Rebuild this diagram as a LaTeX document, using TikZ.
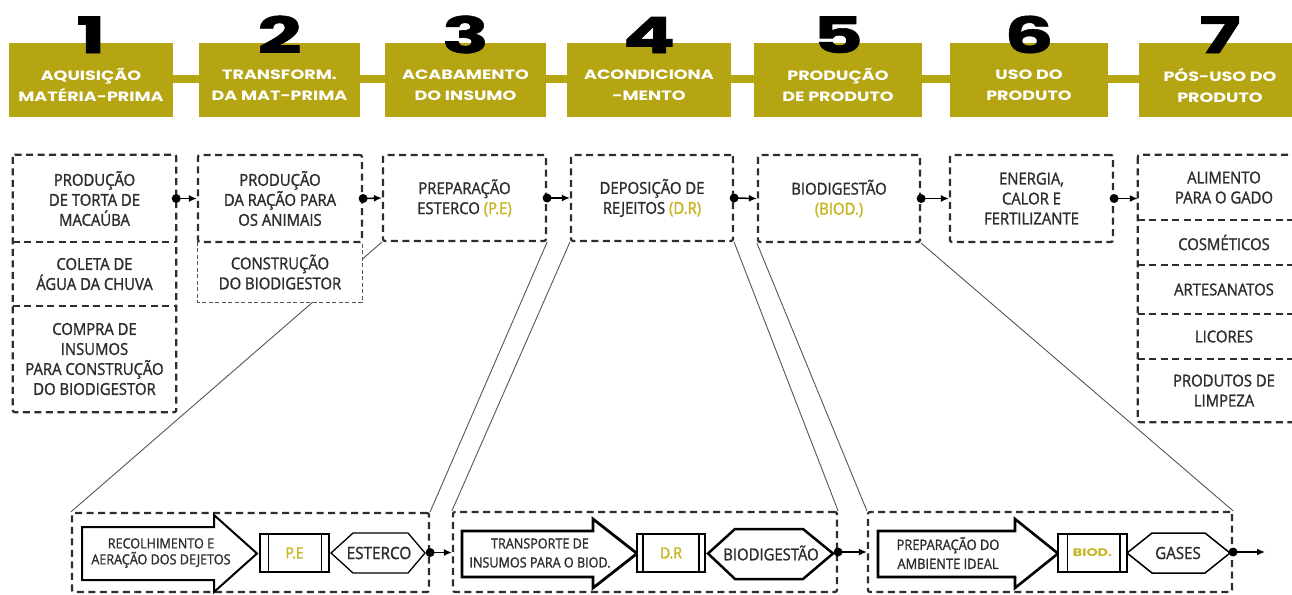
\documentclass[tikz,border=0pt]{standalone}
\usepackage{fontspec}
\setmainfont{Open Sans}[FakeStretch=0.9,FakeBold=1.3]
\newfontfamily\hdrfont[FakeStretch=1.3]{Poppins}
\newfontfamily\numfont[FakeStretch=1.55,FakeBold=1.2]{Poppins}
\usetikzlibrary{arrows.meta,backgrounds}
\definecolor{olive}{RGB}{182,165,18}
\definecolor{hilite}{RGB}{198,181,32}
\definecolor{ink}{RGB}{45,45,45}
\definecolor{wire}{RGB}{85,85,85}
\newcommand{\hl}[1]{\textcolor{hilite}{#1}}
\tikzset{
  hdrbox/.style={fill=olive, inner sep=0pt, minimum height=74pt},
  hdrtext/.style={text=white, inner sep=0pt, align=center,
    font=\hdrfont\bfseries\fontsize{13.5}{21}\selectfont},
  numlbl/.style={font=\numfont\bfseries\fontsize{50}{50}\selectfont,
    inner sep=0pt, anchor=base, text=black},
  cell/.style={inner sep=0pt, align=center, text=ink,
    font=\fontsize{16.5}{20}\selectfont},
  dashframe/.style={draw=ink, line width=2.2pt, dash pattern=on 7pt off 4.5pt,
    rounded corners=2pt},
  thinframe/.style={draw=wire, line width=1pt, dash pattern=on 4pt off 2.5pt},
  funnel/.style={draw=wire, line width=0.9pt},
  link/.style={line width=1.5pt, -{Latex[length=8pt,width=7pt]}},
  proc/.style={draw=black, fill=white, inner sep=0pt, text=hilite},
  lbl/.style={inner sep=0pt, align=center, text=ink},
}
\begin{document}
\begin{tikzpicture}[x=1pt,y=-1pt]
\useasboundingbox (0,0) rectangle (1292,594);

% ---------- stage headers ----------
\fill[olive] (170,75) rectangle (1142,83);
\foreach \n/\cx/\w/\t in {
  1/91/164/{AQUISIÇÃO\\MATÉRIA-PRIMA},
  2/279.5/161/{TRANSFORM.\\DA MAT-PRIMA},
  3/465.5/161/{ACABAMENTO\\DO INSUMO},
  4/649/164/{ACONDICIONA\\-MENTO},
  5/838/168/{PRODUÇÃO\\DE PRODUTO},
  6/1029/158/{USO DO\\PRODUTO},
  7/1220/162/{PÓS-USO DO\\PRODUTO}}{
  \node[hdrbox, minimum width=\w pt] (h\n) at (\cx,80) {};
  \node[hdrtext] (ht\n) at (\cx,85) {\t};
  \node[numlbl] (hn\n) at (\cx,53) {\n};
}

% ---------- stage activities ----------
\node[cell, minimum width=163pt, minimum height=87pt] (b1a) at (94.5,198.5)
  {PRODUÇÃO\\DE TORTA DE\\MACAÚBA};
\node[cell, minimum width=163pt, minimum height=64pt] (b1b) at (94.5,274)
  {COLETA DE\\ÁGUA DA CHUVA};
\node[cell, minimum width=163pt, minimum height=106pt] (b1c) at (94.5,359)
  {COMPRA DE\\INSUMOS\\PARA CONSTRUÇÃO\\DO BIODIGESTOR};
\draw[dashframe] (b1a.north west) rectangle (b1c.south east);
\draw[dashframe, rounded corners=0pt] (b1a.south west) -- (b1a.south east);
\draw[dashframe, rounded corners=0pt] (b1b.south west) -- (b1b.south east);

\node[cell, fill=white, minimum width=164pt, minimum height=60pt] (b2b) at (280,272)
  {CONSTRUÇÃO\\DO BIODIGESTOR};
\draw[thinframe] (b2b.north west) -- (b2b.south west) -- (b2b.south east) -- (b2b.north east);
\node[cell, dashframe, fill=white, minimum width=164pt, minimum height=87pt] (b2a) at (280,198.5)
  {PRODUÇÃO\\DA RAÇÃO PARA\\OS ANIMAIS};

\node[cell, dashframe, fill=white, minimum width=163pt, minimum height=86pt] (b3) at (464.5,198)
  {PREPARAÇÃO\\ESTERCO \hl{(P.E)}};
\node[cell, dashframe, fill=white, minimum width=162pt, minimum height=86pt] (b4) at (652,198)
  {DEPOSIÇÃO DE\\REJEITOS \hl{(D.R)}};
\node[cell, dashframe, fill=white, minimum width=162pt, minimum height=87pt] (b5) at (839,198.5)
  {BIODIGESTÃO\\\hl{(BIOD.)}};
\node[cell, dashframe, fill=white, minimum width=163pt, minimum height=87pt] (b6) at (1031.5,198.5)
  {ENERGIA,\\CALOR E\\FERTILIZANTE};

\node[cell, minimum width=172pt, minimum height=65pt] (b7a) at (1224,187.5) {ALIMENTO\\PARA O GADO};
\node[cell, minimum width=172pt, minimum height=45pt] (b7b) at (1224,242.5) {COSMÉTICOS};
\node[cell, minimum width=172pt, minimum height=49pt] (b7c) at (1224,289.5) {ARTESANATOS};
\node[cell, minimum width=172pt, minimum height=45pt] (b7d) at (1224,336.5) {LICORES};
\node[cell, minimum width=172pt, minimum height=63pt] (b7e) at (1224,390.5) {PRODUTOS DE\\LIMPEZA};
\draw[dashframe] (b7a.north west) rectangle (b7e.south east);
\foreach \c in {b7a,b7b,b7c,b7d}
  \draw[dashframe, rounded corners=0pt] (\c.south west) -- (\c.south east);

% links between the stages
\foreach \a/\b in {b1a/b2a, b2a/b3, b3/b4, b4/b5, b5/b6}{
  \fill (\a.east) circle (4.5pt);
  \draw[link] (\a.east) -- (\b.west);
}
\fill (b6.east) circle (4.5pt);
\draw[link] (b6.east) -- (b6.east -| b7a.west);

% ---------- detail panels ----------
\node[dashframe, fill=white, inner sep=0pt, minimum width=357pt, minimum height=79pt] (pA) at (250.5,552.5) {};
\node[dashframe, fill=white, inner sep=0pt, minimum width=384pt, minimum height=80pt] (pB) at (645,552) {};
\node[dashframe, fill=white, inner sep=0pt, minimum width=364pt, minimum height=80pt] (pC) at (1050,552) {};

\begin{pgfonlayer}{background}
  \draw[funnel] (b3.south west) -- (pA.north west);
  \draw[funnel] (b3.south east) -- (pA.north east);
  \draw[funnel] (b4.south west) -- (pB.north west);
  \draw[funnel] (b4.south east) -- (pB.north east);
  \draw[funnel] (b5.south west) -- (pC.north west);
  \draw[funnel] (b5.south east) -- (pC.north east);
\end{pgfonlayer}

% panel A: manure preparation
\draw[line width=2pt, line join=miter] (82,527) -- (214,527) -- (214,515) -- (257,553.5)
  -- (214,592) -- (214,580) -- (82,580) -- cycle;
\node[lbl, font=\fontsize{14}{16}\selectfont] (tA) at (161,553) {RECOLHIMENTO E\\AERAÇÃO DOS DEJETOS};
\node[proc, line width=1.3pt, minimum width=69pt, minimum height=38pt,
  font=\fontsize{15.5}{14}\selectfont] (qA) at (294.5,553) {P.E};
\draw[line width=1.3pt] ([xshift=9pt]qA.north west) -- ([xshift=9pt]qA.south west);
\draw[line width=1.3pt] ([xshift=-8pt]qA.north east) -- ([xshift=-8pt]qA.south east);
\node[lbl, font=\fontsize{17}{16}\selectfont] (xA) at (379,553) {ESTERCO};
\draw[line width=1.3pt] (331,553) -- (353,533) -- (408,533) -- (425,553) -- (408,573) -- (353,573) -- cycle;

% panel B: waste deposition
\draw[line width=2.8pt, line join=miter] (462,531) -- (593,531) -- (593,519) -- (637,553.5)
  -- (593,588) -- (593,577) -- (462,577) -- cycle;
\node[lbl, font=\fontsize{14}{19}\selectfont] (tB) at (540,553) {TRANSPORTE DE\\INSUMOS PARA O BIOD.};
\node[proc, line width=1.8pt, minimum width=68pt, minimum height=38pt,
  font=\fontsize{15.5}{14}\selectfont] (qB) at (671,553) {D.R};
\draw[line width=1.6pt] ([xshift=7pt]qB.north west) -- ([xshift=7pt]qB.south west);
\draw[line width=1.6pt] ([xshift=-7pt]qB.north east) -- ([xshift=-7pt]qB.south east);
\node[lbl, font=\fontsize{16.5}{16}\selectfont] (xB) at (771,553) {BIODIGESTÃO};
\draw[line width=2.5pt] (708,553.5) -- (735,529) -- (803,529) -- (833,553.5) -- (803,579) -- (735,579) -- cycle;

% panel C: biodigestion
\draw[line width=2.6pt, line join=miter] (878,531) -- (1015,531) -- (1015,519) -- (1058,553.5)
  -- (1015,588) -- (1015,577) -- (878,577) -- cycle;
\node[lbl, font=\fontsize{14.3}{19}\selectfont] (tC) at (948,553) {PREPARAÇÃO DO\\AMBIENTE IDEAL};
\node[proc, line width=1.5pt, minimum width=69pt, minimum height=38pt,
  font=\hdrfont\bfseries\fontsize{11}{11}\selectfont] (qC) at (1092.5,553) {BIOD.};
\draw[line width=1.5pt] ([xshift=10pt]qC.north west) -- ([xshift=10pt]qC.south west);
\draw[line width=1.5pt] ([xshift=-8pt]qC.north east) -- ([xshift=-8pt]qC.south east);
\node[lbl, font=\fontsize{16.8}{16}\selectfont] (xC) at (1178,553) {GASES};
\draw[line width=1.5pt] (1127,553) -- (1152,533) -- (1205,533) -- (1230,553) -- (1205,573) -- (1152,573) -- cycle;

% links between the panels
\coordinate (out) at (1265,552);
\fill (pA.east) circle (4.5pt);
\draw[link] (pA.east) -- (pA.east -| pB.west);
\fill (pB.east) circle (4.5pt);
\draw[link] (pB.east) -- (pC.west);
\fill (pC.east) circle (4.5pt);
\draw[link] (pC.east) -- (out);
\end{tikzpicture}
\end{document}
